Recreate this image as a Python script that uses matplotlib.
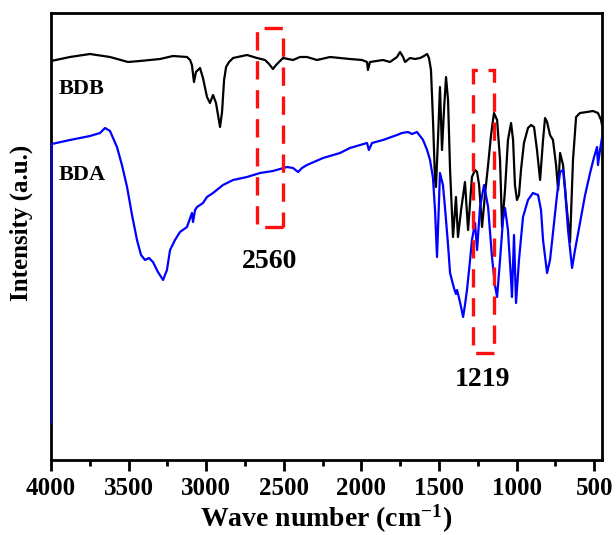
import matplotlib
matplotlib.use("Agg")
import matplotlib.pyplot as plt
from matplotlib.patches import Rectangle
from matplotlib.ticker import MultipleLocator

plt.rcParams['font.family'] = ['Liberation Serif', 'DejaVu Serif']
plt.rcParams['font.weight'] = 'bold'
plt.rcParams['mathtext.fontset'] = 'custom'
plt.rcParams['mathtext.rm'] = 'Liberation Serif:bold'
plt.rcParams['mathtext.bf'] = 'Liberation Serif:bold'
plt.rcParams['mathtext.default'] = 'bf'

# BDB spectrum (wavenumber, intensity a.u.)
bdb_wn = [4000, 3878, 3749, 3620, 3504, 3427, 3298, 3214, 3124, 3104, 3092, 3079,
          3066, 3053, 3040, 3021, 2995, 2976, 2956, 2937, 2924, 2911, 2898, 2885,
          2872, 2853, 2827, 2737, 2673, 2621, 2595, 2570, 2550, 2531, 2505, 2441,
          2396, 2351, 2286, 2202, 2138, 2074, 1996, 1964, 1958, 1945, 1861, 1816,
          1771, 1751, 1732, 1719, 1687, 1655, 1622, 1597, 1577, 1565, 1552, 1539,
          1526, 1520, 1507, 1494, 1481, 1468, 1455, 1442, 1429, 1410, 1391, 1378,
          1358, 1333, 1313, 1288, 1268, 1255, 1242, 1223, 1203, 1184, 1165, 1146,
          1126, 1107, 1094, 1075, 1056, 1036, 1023, 1011, 998, 985, 972, 953,
          927, 907, 888, 869, 849, 830, 817, 804, 785, 766, 746, 733,
          720, 701, 682, 656, 637, 617, 592, 547, 508, 476, 456, 450]
bdb_int = [399, 403, 406, 403, 398, 399, 401, 404, 403, 400, 395, 378,
           388, 390, 392, 382, 363, 357, 365, 357, 345, 333, 348, 380,
           393, 398, 402, 405, 402, 400, 396, 391, 395, 398, 402, 400,
           403, 403, 400, 403, 402, 401, 400, 398, 390, 398, 400, 398,
           403, 408, 403, 398, 402, 401, 402, 404, 406, 402, 390, 340,
           280, 273, 320, 373, 310, 350, 383, 360, 290, 223, 263, 223,
           250, 278, 230, 283, 290, 288, 275, 233, 267, 295, 325, 347,
           340, 300, 233, 270, 320, 337, 320, 275, 260, 265, 290, 317,
           332, 335, 333, 310, 280, 320, 342, 338, 325, 320, 295, 270,
           307, 295, 260, 218, 300, 343, 347, 348, 349, 347, 340, 335]

# BDA spectrum (wavenumber, intensity a.u.)
bda_wn = [4000, 3995, 3878, 3781, 3749, 3684, 3652, 3620, 3575, 3543, 3510, 3478,
          3446, 3420, 3394, 3369, 3343, 3311, 3278, 3253, 3233, 3201, 3169, 3124,
          3092, 3085, 3072, 3059, 3021, 2995, 2956, 2892, 2827, 2737, 2653, 2570,
          2479, 2441, 2408, 2383, 2351, 2247, 2138, 2074, 1964, 1952, 1932, 1861,
          1771, 1739, 1700, 1674, 1642, 1603, 1577, 1558, 1539, 1526, 1513, 1500,
          1494, 1475, 1462, 1442, 1429, 1404, 1391, 1384, 1371, 1358, 1345, 1333,
          1320, 1300, 1288, 1268, 1255, 1236, 1210, 1184, 1159, 1140, 1126, 1107,
          1088, 1075, 1056, 1036, 1030, 1017, 1004, 985, 959, 927, 895, 862,
          843, 830, 804, 785, 766, 740, 720, 701, 688, 669, 643, 624,
          592, 559, 527, 501, 482, 476, 463, 450]
bda_int = [37, 316, 320, 323, 324, 327, 332, 329, 313, 295, 273, 245,
           220, 205, 200, 202, 198, 188, 180, 190, 210, 220, 228, 233,
           247, 238, 250, 253, 257, 263, 267, 275, 280, 283, 287, 289,
           293, 292, 288, 292, 295, 302, 307, 312, 317, 310, 317, 320,
           325, 327, 328, 326, 328, 320, 310, 300, 282, 250, 203, 260,
           287, 275, 253, 215, 187, 172, 166, 170, 162, 153, 143, 155,
           170, 200, 220, 237, 210, 253, 275, 253, 203, 175, 163, 200,
           240, 252, 230, 180, 163, 225, 157, 200, 243, 260, 267, 265,
           250, 220, 187, 200, 227, 265, 288, 290, 270, 230, 192, 210,
           237, 265, 287, 303, 313, 295, 310, 322]

# marked regions: (wn_left, wn_right, int_bottom, int_top)
box_2560 = (2675, 2503, 233, 432)
box_1219 = (1281, 1146, 107, 390)

fig = plt.figure(figsize=(6.16, 5.35), dpi=100)
ax = fig.add_axes([0.0828, 0.1402, 0.8945, 0.8355])

ax.plot(bdb_wn, bdb_int, color='black', linewidth=1.6)
ax.plot(bda_wn, bda_int, color='#0000ff', linewidth=1.6, zorder=3)

for b in (box_2560, box_1219):
    ax.add_patch(Rectangle((b[1], b[2]), b[0] - b[1], b[3] - b[2], fill=False,
                           edgecolor='#ff1010', linewidth=2.4,
                           linestyle=(0, (5.5, 3.2)), zorder=4))

ax.text(3800, 371, 'BDB', fontsize=16, fontweight='bold', ha='center', va='center')
ax.text(3800, 285, 'BDA', fontsize=16, fontweight='bold', ha='center', va='center')
ax.text(2590, 198, '2560', fontsize=20, fontweight='bold', ha='center', va='center')
ax.text(1219, 80, '1219', fontsize=20, fontweight='bold', ha='center', va='center')

ax.set_xlim(4000, 450)
ax.set_ylim(0, 447)
ax.xaxis.set_major_locator(MultipleLocator(500))
ax.xaxis.set_minor_locator(MultipleLocator(250))
ax.set_yticks([])
ax.tick_params(axis='x', which='major', direction='out', length=8, width=2,
               labelsize=18, pad=4)
ax.tick_params(axis='x', which='minor', direction='out', length=4, width=2)
for lab in ax.get_xticklabels():
    lab.set_fontweight('bold')
for sp in ax.spines.values():
    sp.set_linewidth(2)

ax.set_xlabel('Wave number (cm$^{-1}$)', fontsize=20, fontweight='bold', labelpad=2)
ax.set_ylabel('Intensity (a.u.)', fontsize=18, fontweight='bold')
ax.yaxis.set_label_coords(-0.033, 0.53)

fig.savefig('out.png', dpi=100)
